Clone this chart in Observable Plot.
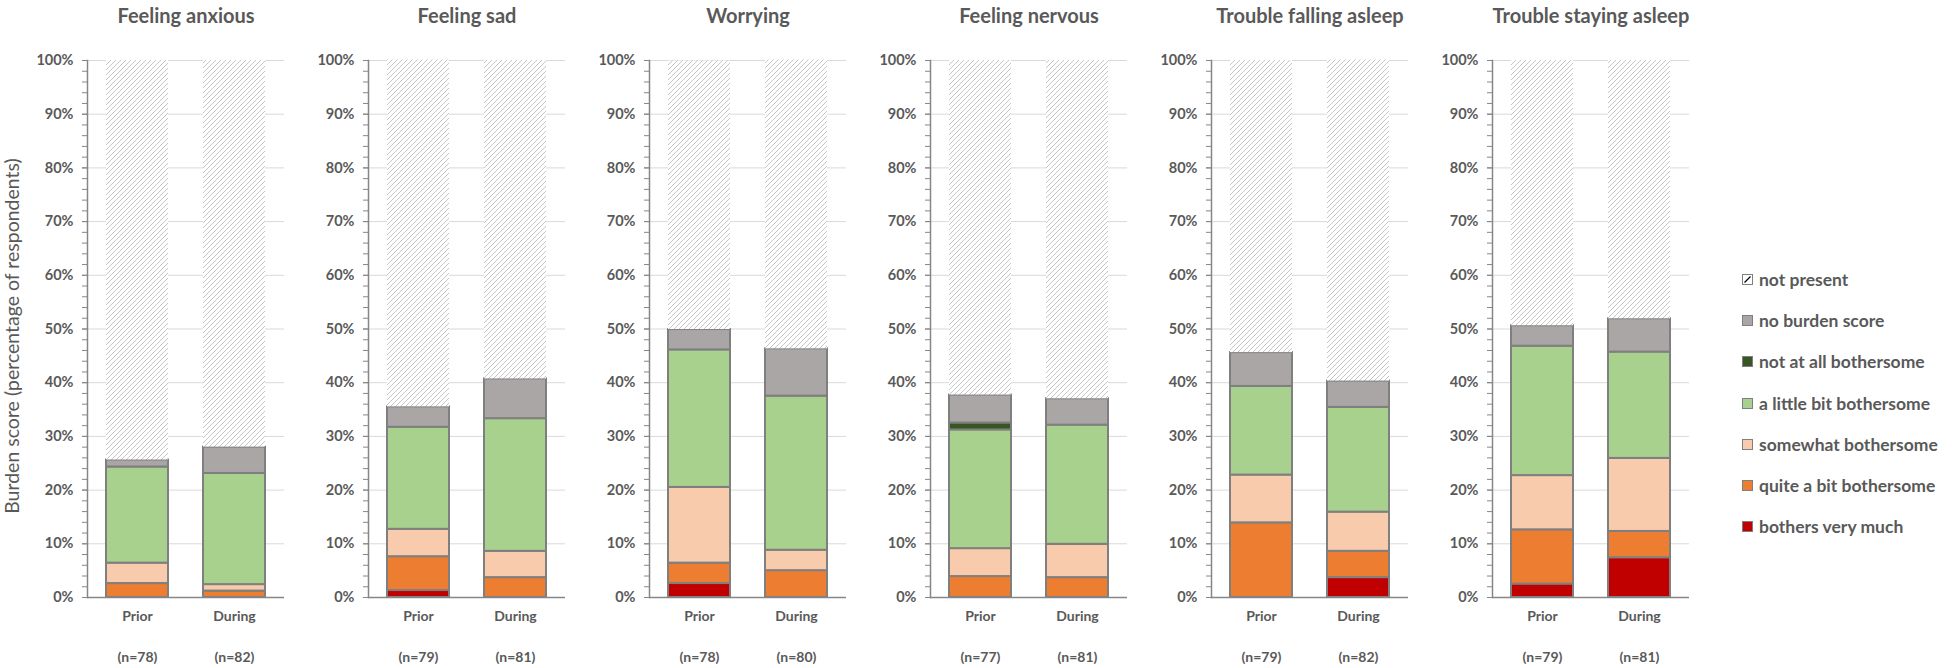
<!DOCTYPE html>
<html>
<head>
<meta charset="utf-8">
<script src="https://cdn.jsdelivr.net/npm/d3@7"></script>
<script src="https://cdn.jsdelivr.net/npm/@observablehq/plot@0.6"></script>
<style>
  body { margin: 0; background: #fff; font-family: Lato, "Open Sans", sans-serif; }
  #wrap { position: relative; width: 1952px; height: 668px; overflow: hidden; }
  #ylabel { position: absolute; left: 11px; top: 336px; transform: translate(-50%, -50%) rotate(-90deg);
    white-space: nowrap; font-size: 19.5px; color: #595959; }
  #legend { position: absolute; left: 1742px; top: 259px; }
  .item { display: flex; align-items: center; height: 41.2px; font-size: 17.5px; font-weight: 700; color: #595959; white-space: nowrap; }
  .sw { width: 9px; height: 9px; border: 1px solid #7f7f7f; margin-right: 6px; box-sizing: content-box; }
</style>
</head>
<body>
<div id="wrap">
  <div id="chart"></div>
  <div id="ylabel">Burden score (percentage of respondents)</div>
  <div id="legend"></div>
</div>
<script>
// ---- data ----
const symptoms = ["Feeling anxious", "Feeling sad", "Worrying", "Feeling nervous", "Trouble falling asleep", "Trouble staying asleep"];
const periods = ["Prior", "During"];
// order: symptom-major, Prior then During
const nValues = [78, 82, 79, 81, 78, 80, 77, 81, 79, 82, 79, 81];

const bothersVeryMuch   = [0,    0,    1.3,  0,    2.6,  0,    0,    0,    0,    3.7,  2.5,  7.4];
const quiteABit         = [2.6,  1.2,  6.3,  3.7,  3.8,  5.0,  3.9,  3.7,  13.9, 4.9,  10.1, 4.9];
const somewhat          = [3.8,  1.2,  5.1,  4.9,  14.1, 3.8,  5.2,  6.2,  8.9,  7.3,  10.1, 13.6];
const aLittleBit        = [17.9, 20.7, 19.0, 24.7, 25.6, 28.7, 22.1, 22.2, 16.5, 19.5, 24.1, 19.8];
const notAtAll          = [0,    0,    0,    0,    0,    0,    1.3,  0,    0,    0,    0,    0];
const noBurdenScore     = [1.3,  4.9,  3.8,  7.4,  3.8,  8.8,  5.2,  4.9,  6.3,  4.9,  3.8,  6.2];
const notPresent        = [74.4, 72.0, 64.6, 59.3, 50.0, 53.8, 62.3, 63.0, 54.4, 59.8, 49.4, 48.1];

// stacking order, bottom to top
const categories = ["bothers very much", "quite a bit bothersome", "somewhat bothersome", "a little bit bothersome", "not at all bothersome", "no burden score", "not present"];
const categoryColors = ["#c00000", "#ed7d31", "#f8cbad", "#a9d18e", "#375623", "#aaa6a6", "url(#hatch)"];
const yTicks = [0, 10, 20, 30, 40, 50, 60, 70, 80, 90, 100];
const minorTicks = d3.range(0, 101, 2);

// ---- build table ----
const seriesArrays = [bothersVeryMuch, quiteABit, somewhat, aLittleBit, notAtAll, noBurdenScore, notPresent];
const fillOf = Object.fromEntries(categories.map((c, i) => [c, categoryColors[i]]));
const table = [];
const nTable = [];
symptoms.forEach((s, i) => periods.forEach((p, j) => {
  const k = i * 2 + j;
  nTable.push({symptom: s, period: p, n: nValues[k]});
  categories.forEach((c, ci) => {
    const v = seriesArrays[ci][k];
    if (v > 0) table.push({symptom: s, period: p, category: c, value: v});
  });
}));

const chart = Plot.plot({
  width: 1952,
  height: 668,
  marginLeft: 86,
  marginRight: 263,
  marginTop: 60,
  marginBottom: 71,
  style: {fontFamily: "Lato, 'Open Sans', sans-serif", color: "#595959", background: "white"},
  fx: {domain: symptoms, paddingInner: 0.3, paddingOuter: 0, label: null},
  x: {domain: periods, paddingInner: 0.357, paddingOuter: 0.184, label: null},
  y: {domain: [0, 100], label: null},
  color: {type: "identity"},
  marks: [
    Plot.ruleY(yTicks.slice(1), {stroke: "#d9d9d9", strokeWidth: 1}),
    Plot.barY(table, Plot.stackY({
      fx: "symptom", x: "period", y: "value", order: categories,
      fill: d => fillOf[d.category],
      stroke: d => d.category === "not present" ? "none" : "#7f7f7f",
      strokeWidth: 2
    })),
    Plot.axisY({ticks: minorTicks, tickFormat: () => "", tickSize: 5, stroke: "#868686", facetAnchor: null, label: null}),
    Plot.axisY({ticks: yTicks, tickFormat: d => d + "%", tickSize: 5, tickPadding: 9, fontSize: 14.5, fontWeight: 700,
      fill: "#595959", stroke: "#868686", facetAnchor: null, label: null}),
    Plot.frame({anchor: "left", stroke: "#868686", strokeWidth: 1.5}),
    Plot.ruleY([0], {stroke: "#868686", strokeWidth: 1.5}),
    Plot.axisX({tickSize: 0, tickPadding: 14, fontSize: 14, fontWeight: 700, fill: "#595959", label: null}),
    Plot.axisFx({anchor: "top", tickSize: 0, tickPadding: 38, fontSize: 20, fontWeight: 700, fill: "#595959", label: null}),
    Plot.text(nTable, {fx: "symptom", x: "period", frameAnchor: "bottom", dy: 64, text: d => `(n=${d.n})`,
      fontSize: 14, fontWeight: 700, fill: "#595959"})
  ]
});

// hatch pattern
chart.insertAdjacentHTML("afterbegin",
  `<defs><pattern id="hatch" patternUnits="userSpaceOnUse" width="5" height="5">
     <rect width="5" height="5" fill="white"></rect>
     <path d="M-1,1 L1,-1 M0,5 L5,0 M4,6 L6,4" stroke="#c6c6c6" stroke-width="1"></path>
   </pattern></defs>`);
document.getElementById("chart").appendChild(chart);

// legend (top item first)
const legend = document.getElementById("legend");
const legendOrder = categories.slice().reverse();
legendOrder.forEach(c => {
  const item = document.createElement("div");
  item.className = "item";
  let sw;
  if (c === "not present") {
    sw = `<svg width="11" height="11" style="margin-right:6px"><rect x="0.5" y="0.5" width="10" height="10" fill="white" stroke="#7f7f7f"/><path d="M2.5,8.5 L8.5,2.5" stroke="#000" stroke-width="1.2"/></svg>`;
  } else {
    sw = `<span class="sw" style="background:${fillOf[c]}"></span>`;
  }
  item.innerHTML = sw + `<span>${c}</span>`;
  legend.appendChild(item);
});
</script>
</body>
</html>
